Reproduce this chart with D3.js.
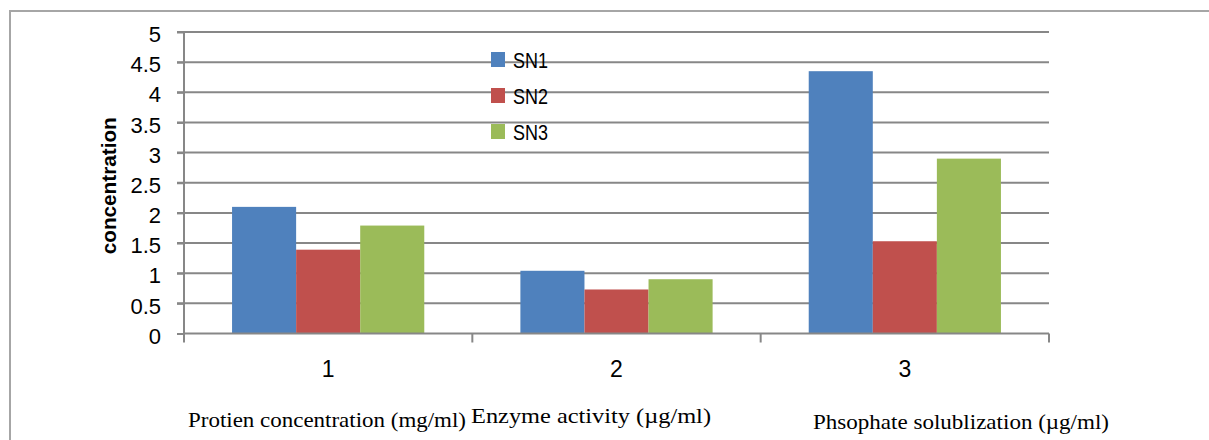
<!DOCTYPE html>
<html>
<head>
<meta charset="utf-8">
<script src="https://cdn.jsdelivr.net/npm/d3@7"></script>
<style>
  body { margin: 0; background: #fff; }
  svg { display: block; }
</style>
</head>
<body>
<div id="chart"></div>
<script>
// data
var categories = ['1', '2', '3'];
var categoryNames = [
  'Protien concentration (mg/ml)',
  'Enzyme activity (\u00b5g/ml)',
  'Phsophate solublization (\u00b5g/ml)'
];
var seriesNames = ['SN1', 'SN2', 'SN3'];
var SN1 = [2.10, 1.04, 4.35];
var SN2 = [1.39, 0.73, 1.53];
var SN3 = [1.79, 0.90, 2.90];
var yTicks = [0, 0.5, 1, 1.5, 2, 2.5, 3, 3.5, 4, 4.5, 5];

//config
var width  = 1209
  , height = 440
  , colors = ['#4F81BD', '#C0504D', '#9BBB59']
  , grey   = '#878787'
  , sans   = 'Liberation Sans, Arial, sans-serif'
  , margin = { left: 184, right: 1049, top: 32, bottom: 333.5 }
;

var values = [SN1, SN2, SN3];

var svg = d3.select('#chart').append('svg')
    .attr('width', width)
    .attr('height', height);

// frame
svg.append('rect')
    .attr('x', 10).attr('y', 11)
    .attr('width', width + 20).attr('height', height + 20)
    .attr('fill', 'none')
    .attr('stroke', '#a6a6a6')
    .attr('stroke-width', 2);

var x = d3.scaleBand()
    .domain(categories)
    .range([margin.left, margin.right])
    .padding(0);

var xs = d3.scaleBand()
    .domain(seriesNames)
    .range([0, x.bandwidth()])
    .paddingInner(0)
    .paddingOuter(0.75);

var y = d3.scaleLinear()
    .domain([0, 5])
    .range([margin.bottom, margin.top]);

// grid
svg.append('g').selectAll('line')
    .data(yTicks.filter(function (d) { return d > 0; }))
    .enter().append('line')
    .attr('x1', margin.left - 7)
    .attr('x2', margin.right)
    .attr('y1', function (d) { return y(d); })
    .attr('y2', function (d) { return y(d); })
    .attr('stroke', grey)
    .attr('stroke-width', 2);

// bars
var groups = svg.append('g').selectAll('g')
    .data(categories)
    .enter().append('g')
    .attr('transform', function (d) { return 'translate(' + x(d) + ',0)'; });

groups.selectAll('rect')
    .data(function (d, i) {
      return seriesNames.map(function (s, j) { return { s: s, j: j, v: values[j][i] }; });
    })
    .enter().append('rect')
    .attr('x', function (d) { return xs(d.s); })
    .attr('width', xs.bandwidth())
    .attr('y', function (d) { return y(d.v); })
    .attr('height', function (d) { return y(0) - y(d.v); })
    .attr('fill', function (d) { return colors[d.j]; });

// y axis
var yAxis = svg.append('g')
    .attr('transform', 'translate(' + margin.left + ',0)')
    .call(d3.axisLeft(y).tickValues(yTicks).tickSize(7).tickPadding(16)
      .tickFormat(function (d) { return String(d); }));
yAxis.select('.domain').attr('stroke', grey).attr('stroke-width', 2)
    .attr('d', 'M0,' + margin.top + 'V' + (margin.bottom + 1));
yAxis.selectAll('.tick line').attr('stroke', grey).attr('stroke-width', 2);
yAxis.selectAll('.tick text')
    .attr('font-family', sans)
    .attr('font-size', 22)
    .attr('fill', '#000')
    .attr('dy', '0.44em');

// x axis
var xAxis = svg.append('g')
    .attr('transform', 'translate(0,' + margin.bottom + ')')
    .call(d3.axisBottom(x).tickSize(0).tickPadding(27));
xAxis.select('.domain').attr('stroke', grey).attr('stroke-width', 2)
    .attr('d', 'M' + margin.left + ',0H' + margin.right);
xAxis.selectAll('.tick text')
    .attr('font-family', sans)
    .attr('font-size', 23)
    .attr('fill', '#000');

var bounds = [margin.left].concat(categories.map(function (d) { return x(d) + x.bandwidth(); }));
xAxis.selectAll('line.bound')
    .data(bounds)
    .enter().append('line')
    .attr('class', 'bound')
    .attr('x1', function (d) { return d; })
    .attr('x2', function (d) { return d; })
    .attr('y1', 0).attr('y2', 9)
    .attr('stroke', grey)
    .attr('stroke-width', 2);

// category names
var nameBox = [
  { x: 188, w: 278, b: 427 },
  { x: 471, w: 240, b: 423 },
  { x: 813, w: 296, b: 429 }
];
svg.append('g').selectAll('text')
    .data(categoryNames)
    .enter().append('text')
    .attr('x', function (d, i) { return nameBox[i].x; })
    .attr('y', function (d, i) { return nameBox[i].b; })
    .attr('textLength', function (d, i) { return nameBox[i].w; })
    .attr('lengthAdjust', 'spacingAndGlyphs')
    .attr('font-family', 'Liberation Serif, Times New Roman, serif')
    .attr('font-size', 21)
    .text(function (d) { return d; });

// y title
svg.append('text')
    .attr('transform', 'translate(116,' + y(2.45) + ') rotate(-90)')
    .attr('text-anchor', 'middle')
    .attr('font-family', sans)
    .attr('font-weight', 'bold')
    .attr('font-size', 20)
    .attr('textLength', 137)
    .attr('lengthAdjust', 'spacingAndGlyphs')
    .text('concentration');

// legend
var legend = svg.append('g').selectAll('g')
    .data(seriesNames)
    .enter().append('g')
    .attr('transform', function (d, i) { return 'translate(491,' + (52 + i * 36) + ')'; });
legend.append('rect')
    .attr('width', 14).attr('height', 15)
    .attr('fill', function (d, i) { return colors[i]; });
legend.append('text')
    .attr('x', 22).attr('y', 15.5)
    .attr('font-family', sans)
    .attr('font-size', 22)
    .attr('textLength', 35)
    .attr('lengthAdjust', 'spacingAndGlyphs')
    .text(function (d) { return d; });
</script>
</body>
</html>
